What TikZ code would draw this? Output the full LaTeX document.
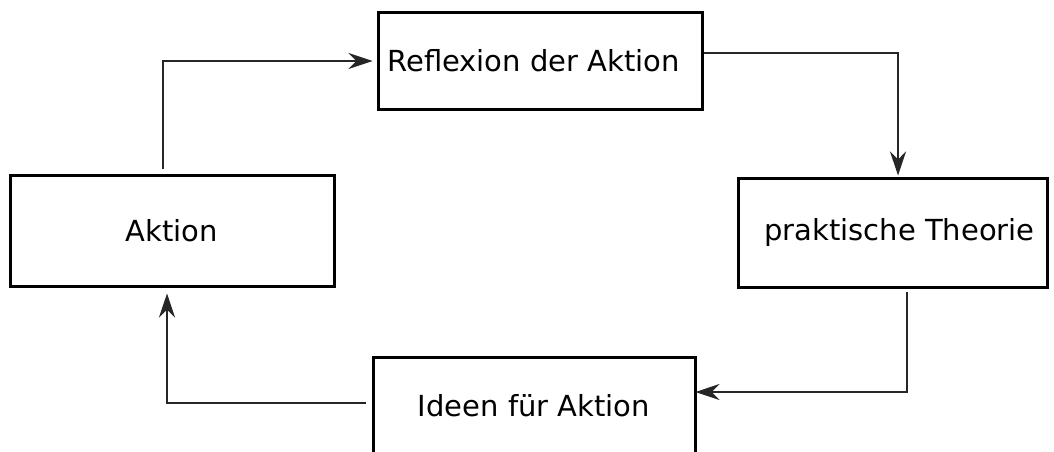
\documentclass[tikz,border=0pt]{standalone}
\usepackage{fontspec}
\setmainfont{DejaVu Sans}
\usetikzlibrary{arrows.meta}
\begin{document}
\begin{tikzpicture}[x=1pt,y=-1pt,
  box/.style={draw=black,line width=3pt,fill=white,inner sep=0pt,
    font=\fontsize{29}{34}\selectfont},
  conn/.style={draw=black!85,line width=1.4pt,
    -{Stealth[length=24pt,width=16pt,inset=8pt]}}]
\useasboundingbox (0,0) rectangle (1054,452);
\clip (0,0) rectangle (1054,452);
\fill[white] (0,0) rectangle (1054,452);
\node[box,minimum width=324pt,minimum height=96.5pt] (refl) at (540,61) {\hspace*{-13pt}Reflexion der Aktion};
\node[box,minimum width=324pt,minimum height=111pt] (aktion) at (172,230.5) {Aktion};
\node[box,minimum width=309pt,minimum height=109pt] (prak) at (892.5,232.5) {\hspace*{14pt}praktische Theorie};
\node[box,minimum width=322pt,minimum height=98pt] (ideen) at (534,406) {Ideen für Aktion};
\draw[conn,shorten <=5pt,shorten >=4pt] ([xshift=-9pt]aktion.north) |- (refl.west);
\draw[conn,shorten >=1pt] ([yshift=8pt]refl.east) -| ([xshift=5.5pt]prak.north);
\draw[conn,shorten <=3pt,shorten >=-1pt] ([xshift=14.5pt]prak.south) |- ([yshift=14pt]ideen.east);
\draw[conn,shorten <=6pt,shorten >=6pt] ([yshift=3pt]ideen.west) -| ([xshift=-5pt]aktion.south);
\end{tikzpicture}
\end{document}
